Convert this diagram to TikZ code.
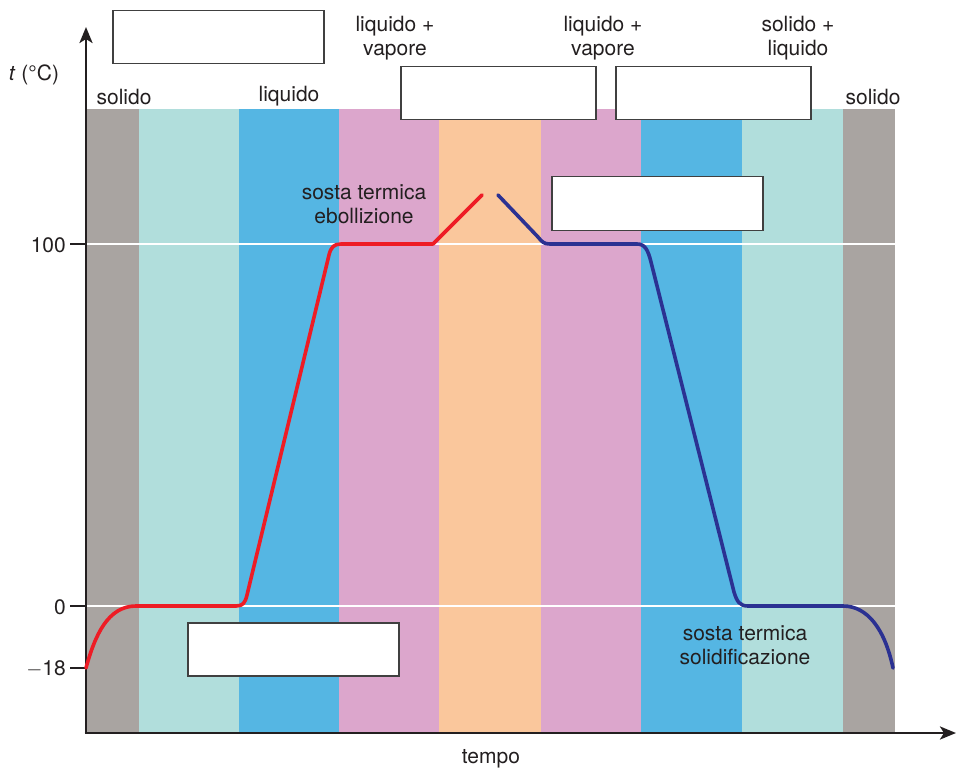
\documentclass[tikz,border=0pt]{standalone}
\usepackage{fontspec}
\setmainfont{TeX Gyre Heros}
\usetikzlibrary{arrows.meta}
\definecolor{cgray}{HTML}{A9A4A1}
\definecolor{ccyan}{HTML}{B1DEDC}
\definecolor{cblue}{HTML}{55B6E3}
\definecolor{cpink}{HTML}{DCA6CC}
\definecolor{corange}{HTML}{FAC79C}
\definecolor{cred}{HTML}{EE1C25}
\definecolor{cnavy}{HTML}{2B3192}
\definecolor{ctxt}{HTML}{231F20}
\definecolor{cbox}{HTML}{404040}
\tikzset{
  lbl/.style={font=\fontsize{21}{23.5}\selectfont, text=ctxt, align=center, inner sep=0pt},
  blank/.style={draw=cbox, fill=white, line width=1.5pt, anchor=north west, inner sep=0pt},
  axisline/.style={draw=ctxt, line width=2.8pt, -{Stealth[length=16pt,width=13pt,inset=4pt]}},
  tick/.style={draw=ctxt, line width=1.8pt},
  guide/.style={draw=white, line width=2pt},
  curve/.style={line width=3.6pt, line cap=round, line join=round},
}
\begin{document}
\begin{tikzpicture}[x=1pt,y=-1pt]
\useasboundingbox (0,0) rectangle (956,770);
% bands
\fill[cgray]   (86,109) rectangle (139,732);
\fill[ccyan]   (139,109) rectangle (239,732);
\fill[cblue]   (239,109) rectangle (339,732);
\fill[cpink]   (339,109) rectangle (439,732);
\fill[corange] (439,109) rectangle (541,732);
\fill[cpink]   (541,109) rectangle (641,732);
\fill[cblue]   (641,109) rectangle (742,732);
\fill[ccyan]   (742,109) rectangle (843,732);
\fill[cgray]   (843,109) rectangle (895,732);
% guide lines
\coordinate (g100a) at (86,244); \coordinate (g100b) at (895,244);
\coordinate (g0a) at (86,606); \coordinate (g0b) at (895,606);
\draw[guide] (g100a) -- (g100b);
\draw[guide] (g0a) -- (g0b);
% ticks
\coordinate (t100) at (70,244); \coordinate (t0) at (70,606);
\coordinate (tm18) at (70,668); \coordinate (am18) at (86,668);
\draw[tick] (t100) -- (g100a);
\draw[tick] (t0) -- (g0a);
\draw[tick] (tm18) -- (am18);
\node[lbl, anchor=east] (l100) at (66,245) {100};
\node[lbl, anchor=east] (l0) at (66,607) {0};
\node[lbl, anchor=east] (lm18) at (66,669) {$-$18};
% axes
\coordinate (origin) at (86,733);
\coordinate (ytop) at (86,27);
\coordinate (xend) at (956,733);
\draw[axisline] (origin) -- (ytop);
\draw[axisline] ([xshift=-1.4pt]origin) -- (xend);
\node[lbl] (ylab) at (34,75) {\textit{t} (°C)};
\node[lbl] (xlab) at (491,759) {tempo};
% phase labels
\node[lbl] (s1) at (124,97) {solido};
\node[lbl] (q1) at (289,96) {liquido};
\node[lbl] (lv1) at (395,38) {liquido +\\vapore};
\node[lbl] (lv2) at (603,38) {liquido +\\vapore};
\node[lbl] (sl) at (798,38) {solido +\\liquido};
\node[lbl] (s2) at (873,97) {solido};
\node[lbl] (ebo) at (364,204) {sosta termica\\ebollizione};
\node[lbl] (sol) at (745,645) {sosta termica\\solidificazione};
% blank boxes
\node[blank, minimum width=211pt, minimum height=53pt] (b1) at (112,10) {};
\node[blank, minimum width=195pt, minimum height=53pt] (b2) at (400,66) {};
\node[blank, minimum width=195pt, minimum height=53pt] (b3) at (615,66) {};
\node[blank, minimum width=211pt, minimum height=54pt] (b4) at (551,176) {};
\node[blank, minimum width=211pt, minimum height=53pt] (b5) at (187,622) {};
% heating curve
\draw[curve, cred] (86,668) .. controls (95,635) and (108,606) .. (136,606)
  -- (236,606) .. controls (243,606) and (245,603) .. (247,595)
  -- (329,255) .. controls (331,247) and (334,244) .. (341,244)
  -- (433,244) -- (482,195);
% cooling curve
\draw[curve, cnavy] (498,195) -- (538,237) .. controls (542,242) and (544,244) .. (550,244)
  -- (637,244) .. controls (645,244) and (648,250) .. (651,262)
  -- (734,592) .. controls (737,602) and (740,606) .. (748,606)
  -- (843,606) .. controls (868,606) and (885,630) .. (893,668);
\end{tikzpicture}
\end{document}
